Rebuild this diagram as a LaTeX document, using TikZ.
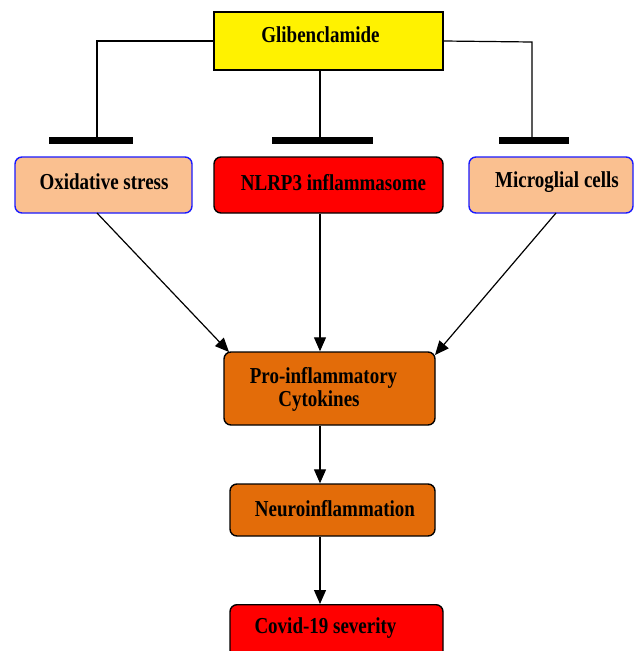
\documentclass[tikz,border=0pt]{standalone}
\usepackage{fontspec}
\usepackage{graphicx}
\setmainfont{Liberation Serif}
\usetikzlibrary{arrows.meta}
\definecolor{peach}{HTML}{FAC090}
\definecolor{orng}{HTML}{E36C09}
\definecolor{bblue}{HTML}{1A1AFF}
\newcommand{\tx}[1]{\scalebox{1}[1.2]{#1}}
\tikzset{
  box/.style={draw, line width=1.4pt, rounded corners=7pt, inner sep=0pt},
  flat/.style={draw, line width=1.4pt, inner sep=0pt},
  lbl/.style={inner sep=0pt, font=\fontsize{19}{25}\selectfont\bfseries, align=center},
  conn/.style={line width=1.2pt},
  arr/.style={line width=1.2pt, -{Triangle[length=14pt,width=12pt]}},
  bar/.style={line width=7pt}
}
\begin{document}
\begin{tikzpicture}[x=1pt,y=-1pt]
\clip (0,0) rectangle (636,651);
\fill[white] (0,0) rectangle (636,651);
% boxes
\node[flat, fill=yellow, minimum width=229pt, minimum height=58pt] (gli) at (328.5,41) {};
\node[box, draw=bblue, fill=peach, minimum width=177pt, minimum height=56pt] (ox) at (103.5,185) {};
\node[box, fill=red, minimum width=229pt, minimum height=56pt] (nl) at (328.5,185) {};
\node[box, draw=bblue, fill=peach, minimum width=164pt, minimum height=56pt] (mg) at (551,185) {};
\node[box, fill=orng, minimum width=211pt, minimum height=73pt] (pro) at (329.5,388.5) {};
\node[box, fill=orng, minimum width=205pt, minimum height=52pt] (neu) at (332.5,510) {};
\node[box, fill=red, minimum width=213pt, minimum height=70pt, anchor=north] (cov) at (336.5,604) {};
% labels
\node[lbl] (glit) at (320.5,35) {\tx{Glibenclamide}};
\node[lbl] (oxt) at (104,182) {\tx{Oxidative stress}};
\node[lbl] (nlt) at (333.5,183) {\tx{NLRP3 inflammasome}};
\node[lbl] (mgt) at (557,182) {\tx{Microglial cells}};
\node[lbl] (prot1) at (323.5,378) {\tx{Pro-inflammatory}};
\node[lbl] (prot2) at (319,401) {\tx{Cytokines}};
\node[lbl] (neut) at (335,509) {\tx{Neuroinflammation}};
\node[lbl] (covt) at (325.5,628) {\tx{Covid-19 severity}};
% inhibition coordinates
\coordinate (lc) at (97,41);
\coordinate (rc) at (532,42);
\coordinate (lb) at (97,140);
\coordinate (mb) at (320,140);
\coordinate (rb) at (532,140);
\coordinate (lb1) at (49,140);  \coordinate (lb2) at (133,140);
\coordinate (mb1) at (272,140); \coordinate (mb2) at (373,140);
\coordinate (rb1) at (499,140); \coordinate (rb2) at (569,140);
\draw[conn] (gli.west) -- (lc) -- (lb);
\draw[conn] (gli.east) -- (rc) -- (rb);
\draw[conn] (gli.south -| mb) -- (mb);
\draw[bar] (lb1) -- (lb2);
\draw[bar] (mb1) -- (mb2);
\draw[bar] (rb1) -- (rb2);
% arrows
\coordinate (oxs) at (97,213);
\coordinate (prol) at (229,352);
\coordinate (mgs) at (556,213);
\coordinate (pror) at (435,355);
\draw[arr] (oxs) -- (prol);
\draw[arr] (nl.south -| mb) -- (pro.north -| mb);
\draw[arr] (mgs) -- (pror);
\draw[arr] (pro.south -| mb) -- (neu.north -| mb);
\draw[arr] (neu.south -| mb) -- (cov.north -| mb);
\end{tikzpicture}
\end{document}
